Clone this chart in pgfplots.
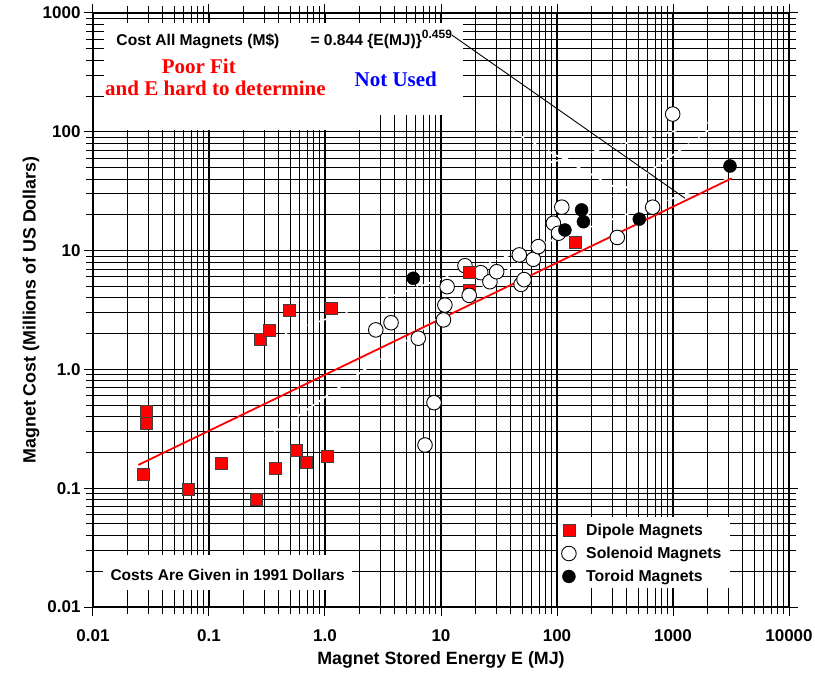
\documentclass[border=0pt]{standalone}
\usepackage{fontspec}
\setmainfont{Liberation Sans}
\newfontfamily\timesfont{Liberation Serif}
\usepackage{pgfplots}
\pgfplotsset{compat=1.18}
\begin{document}
\begin{tikzpicture}
\begin{axis}[
  name=ax,
  scale only axis,
  width=696bp, height=594bp,
  xmode=log, ymode=log,
  xmin=0.01, xmax=10000, ymin=0.01, ymax=1000,
  xtick={0.01,0.1,1,10,100,1000,10000},
  xticklabels={0.01,0.1,1.0,10,100,1000,10000},
  ytick={0.01,0.1,1,10,100,1000},
  yticklabels={0.01,0.1,1.0,10,100,1000},
  minor xtick={0.02,0.03,0.04,0.05,0.06,0.07,0.08,0.09,0.2,0.3,0.4,0.5,0.6,0.7,0.8,0.9,2,3,4,5,6,7,8,9,20,30,40,50,60,70,80,90,200,300,400,500,600,700,800,900,2000,3000,4000,5000,6000,7000,8000,9000},
  minor ytick={0.02,0.03,0.04,0.05,0.06,0.07,0.08,0.09,0.2,0.3,0.4,0.5,0.6,0.7,0.8,0.9,2,3,4,5,6,7,8,9,20,30,40,50,60,70,80,90,200,300,400,500,600,700,800,900},
  grid=both,
  major grid style={black, line width=1.3bp},
  minor grid style={black, line width=1bp},
  tick align=outside,
  major tick length=9bp, minor tick length=7bp,
  tick style={black, line width=1bp},
  axis line style={black, line width=1.4bp},
  ticklabel style={font=\bfseries\fontsize{17bp}{19bp}\selectfont},
  xticklabel style={yshift=-10bp},
  xlabel={Magnet Stored Energy E (MJ)},
  ylabel={Magnet Cost (Millions of US Dollars)},
  label style={font=\bfseries\fontsize{17.8bp}{20bp}\selectfont},
  xlabel style={at={(axis description cs:0.5,-0.089)}, anchor=center},
  ylabel style={at={(axis description cs:-0.089,0.5)}, anchor=center},
  legend style={at={(axis description cs:0.673,0.142)}, anchor=north west,
    draw=none, fill=none, inner xsep=0pt, inner ysep=0pt, row sep=7.5bp,
    font=\bfseries\fontsize{15.8bp}{18bp}\selectfont,
    nodes={inner sep=1bp, text depth=0.2em},
    /tikz/every odd column/.append style={column sep=9bp}},
  legend cell align=left,
]
% white areas covering the grid
\fill[white] (axis cs:0.0124,103.5) rectangle (axis cs:2.59,830);
\fill[white] (axis cs:2.59,138) rectangle (axis cs:15.5,830);
\fill[white] (axis cs:0.0122,0.0139) rectangle (axis cs:1.71,0.0274);
\fill[white] (axis cs:102,0.01445) rectangle (axis cs:3100,0.0572);

% erased (white dashed) lines
\addplot[forget plot, white, line width=1.6bp, dash pattern=on 5bp off 3bp] coordinates {(0.233,0.217) (2716,125.7)};
\addplot[forget plot, white, line width=1.6bp, dash pattern=on 5bp off 3bp] coordinates {(0.452,2.01) (3100,40.6)};
\addplot[forget plot, white, line width=1.6bp, dash pattern=on 5bp off 3bp] coordinates {(71.3,52.6) (2805,130)};
\addplot[forget plot, white, line width=1.6bp, dash pattern=on 5bp off 3bp] coordinates {(15.6,168) (349,32.4)};

% leader line from the formula
\addplot[forget plot, black, line width=0.9bp] coordinates {(12.4,653) (1268,27.6)};

% Dipole magnets
\addplot[only marks, mark=square*, mark size=6bp, mark options={fill=red, draw=black!75, line width=0.7bp}] coordinates {
(0.029,0.445) (0.029,0.352) (0.0271,0.132) (0.066,0.098) (0.128,0.162)
(0.254,0.081) (0.275,1.79) (0.331,2.15) (0.37,0.147) (0.492,3.16)
(0.562,0.21) (0.686,0.164) (1.05,0.187) (1.14,3.27)
(17.5,4.6) (143,11.7)
};
\addlegendentry{Dipole Magnets}

% Solenoid magnets
\addplot[only marks, mark=*, mark size=7.3bp, mark options={fill=white, draw=black, line width=0.9bp}] coordinates {
(2.74,2.15) (3.71,2.47) (6.37,1.83) (7.28,0.231) (8.7,0.525)
(10.5,2.61) (10.8,3.48) (11.3,4.97) (16.1,7.46) (17.5,4.2) (22,6.52)
(26.4,5.47) (30.2,6.64) (47.3,9.2) (49,5.2) (52,5.7) (62.5,8.45)
(69,10.8) (93,17.0) (103,14.0) (110,23.2) (331,12.9) (668,23.2) (994,141)
};
\addlegendentry{Solenoid Magnets}

% Toroid magnets
\addplot[only marks, mark=*, mark size=6.5bp, mark options={fill=black, draw=black}] coordinates {
(5.77,5.85) (117,14.9) (163,22) (169,17.5) (512,18.4) (3100,51.5)
};
\addlegendentry{Toroid Magnets}

% dipole drawn over a solenoid
\addplot[forget plot, only marks, mark=square*, mark size=6bp, mark options={fill=red, draw=black!75, line width=0.7bp}] coordinates {(17.5,6.52)};

% fit line
\addplot[forget plot, red, line width=1.8bp] coordinates {(0.0246,0.157) (3207,40.6)};

% annotations
\node[anchor=base west, font=\bfseries\fontsize{15.6bp}{18bp}\selectfont] at (axis description cs:0.0287,0.946) {Cost All Magnets (M\$)};
\node[anchor=base west, font=\bfseries\fontsize{15.6bp}{18bp}\selectfont] at (axis description cs:0.3075,0.946) {= 0.844 \{E(MJ)\}\raisebox{7bp}{\fontsize{12bp}{14bp}\selectfont 0.459}};
\node[font=\timesfont\bfseries\fontsize{21bp}{24bp}\selectfont, text=red] at (axis description cs:0.152,0.911) {Poor Fit};
\node[font=\timesfont\bfseries\fontsize{21bp}{24bp}\selectfont, text=red] at (axis description cs:0.176,0.874) {and E hard to determine};
\node[font=\timesfont\bfseries\fontsize{21bp}{24bp}\selectfont, text=blue] at (axis description cs:0.435,0.889) {Not Used};
\node[anchor=west, font=\bfseries\fontsize{15.5bp}{18bp}\selectfont] at (axis description cs:0.0201,0.0539) {Costs Are Given in 1991 Dollars};
\end{axis}
\pgfresetboundingbox
\path[use as bounding box] ([xshift=-93bp,yshift=-66bp]ax.south west) rectangle ([xshift=26bp,yshift=13bp]ax.north east);
\end{tikzpicture}
\end{document}
